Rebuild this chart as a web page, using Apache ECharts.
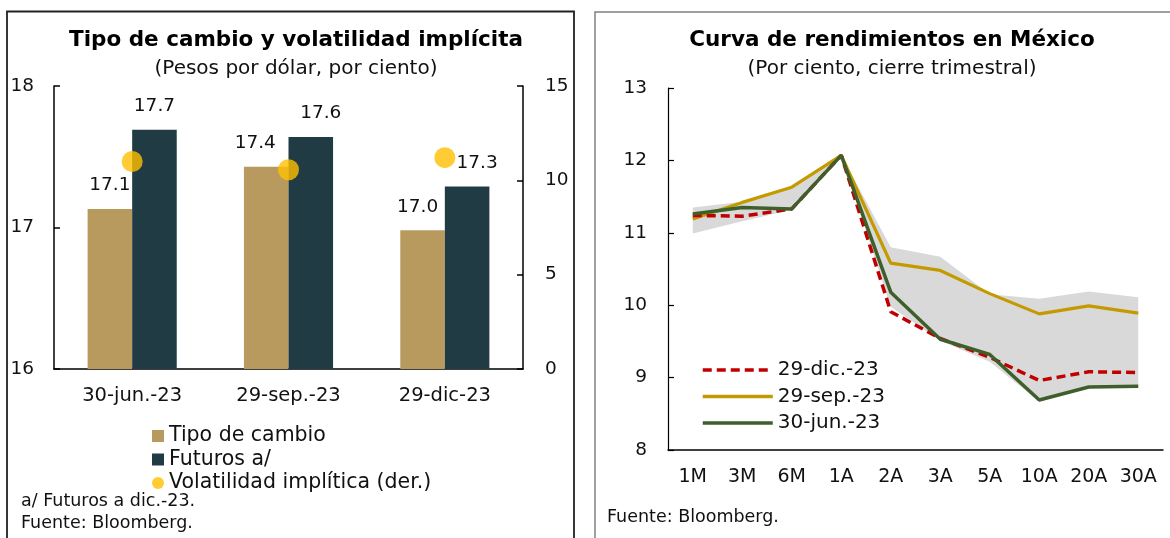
<!DOCTYPE html>
<html>
<head>
<meta charset="utf-8">
<script src="https://cdn.jsdelivr.net/npm/echarts@6/dist/echarts.min.js"></script>
<style>
  html, body { margin: 0; padding: 0; background: #fff; }
  #main { width: 1170px; height: 538px; }
</style>
</head>
<body>
<div id="main"></div>
<script>
// tipo de cambio (izq.)
const fxCategories = ['30-jun.-23', '29-sep.-23', '29-dic-23'];
const tipoCambio = [17.13, 17.43, 16.98];
const futuros = [17.69, 17.64, 17.29];
const volatilidad = [11.0, 10.56, 11.2];
const fxTicks = [16, 17, 18];
const volTicks = [0, 5, 10, 15];

// curva de rendimientos (der.)
const tenors = ['1M', '3M', '6M', '1A', '2A', '3A', '5A', '10A', '20A', '30A'];
const curvaDic = [11.24, 11.23, 11.33, 12.07, 9.91, 9.54, 9.28, 8.96, 9.08, 9.07];
const curvaSep = [11.19, 11.42, 11.63, 12.07, 10.58, 10.48, 10.16, 9.88, 9.99, 9.89];
const curvaJun = [11.26, 11.35, 11.33, 12.07, 10.18, 9.53, 9.32, 8.69, 8.87, 8.88];
const rangoMax = [11.35, 11.43, 11.63, 12.07, 10.80, 10.67, 10.15, 10.09, 10.19, 10.11];
const rangoMin = [10.99, 11.16, 11.32, 12.07, 9.98, 9.51, 9.22, 8.67, 8.86, 8.86];
const yieldTicks = [8, 9, 10, 11, 12, 13];

const FONT = '"DejaVu Sans"';
const c = {
  tipo: '#b89a5e',
  fut: '#213b44',
  vol: '#ffc000',
  dic: '#c00000',
  sep: '#c39a00',
  jun: '#3e5f2b',
  band: '#d9d9d9'
};

var chart = echarts.init(document.getElementById('main'), null, { renderer: 'canvas' });

// label nudges so they don't sit on the dots
const fxLabelShift = { tipo: [0, -11, -5], fut: [0, 10, 10] };

function barData(vals, shifts) {
  return vals.map(function (v, i) {
    return { value: v, label: { offset: [shifts[i], 0] } };
  });
}

var option = {
  backgroundColor: '#fff',
  animation: false,
  textStyle: { fontFamily: FONT },
  title: [
    {
      text: 'Tipo de cambio y volatilidad implícita',
      subtext: '(Pesos por dólar, por ciento)',
      left: 291, top: 24, textAlign: 'center', itemGap: 8,
      textStyle: { fontFamily: FONT, fontSize: 21.5, fontWeight: 'bold', color: '#000' },
      subtextStyle: { fontFamily: FONT, fontSize: 20, color: '#111' }
    },
    {
      text: 'Curva de rendimientos en México',
      subtext: '(Por ciento, cierre trimestral)',
      left: 887, top: 24, textAlign: 'center', itemGap: 8,
      textStyle: { fontFamily: FONT, fontSize: 21.5, fontWeight: 'bold', color: '#000' },
      subtextStyle: { fontFamily: FONT, fontSize: 20, color: '#111' }
    }
  ],
  legend: [
    {
      orient: 'vertical', left: 147, top: 420,
      itemWidth: 12, itemHeight: 12, itemGap: 1.5,
      textStyle: { fontFamily: FONT, fontSize: 20.5, color: '#111', lineHeight: 22 },
      data: [
        { name: 'Tipo de cambio', icon: 'rect' },
        { name: 'Futuros a/', icon: 'rect' },
        { name: 'Volatilidad implítica (der.)', icon: 'circle' }
      ]
    },
    {
      orient: 'vertical', left: 696, top: 354,
      itemWidth: 70, itemHeight: 14, itemGap: 4.5,
      itemStyle: { opacity: 0 },
      lineStyle: { width: 3.5 },
      textStyle: { fontFamily: FONT, fontSize: 20, color: '#111', lineHeight: 22 },
      data: ['29-dic.-23', '29-sep.-23', '30-jun.-23']
    }
  ],
  grid: [
    { left: 54, right: 647, top: 86, bottom: 169, outerBoundsMode: 'none' },
    { left: 668, right: 7, top: 88, bottom: 88, outerBoundsMode: 'none' }
  ],
  xAxis: [
    {
      type: 'category', gridIndex: 0, data: fxCategories,
      axisLine: { lineStyle: { color: '#000', width: 1.5 } },
      axisTick: { length: 7, lineStyle: { color: '#000', width: 1.5 } },
      axisLabel: { fontFamily: FONT, fontSize: 19.5, color: '#111', margin: 17 }
    },
    {
      type: 'category', gridIndex: 1, data: tenors,
      axisLine: { lineStyle: { color: '#000', width: 1.5 } },
      axisTick: { interval: 0, length: 6, lineStyle: { color: '#000', width: 1.2 } },
      axisLabel: { interval: 0, hideOverlap: false, fontFamily: FONT, fontSize: 19, color: '#111', margin: 18 }
    },
    {
      type: 'category', gridIndex: 1, data: tenors, position: 'bottom',
      axisLine: { show: false },
      axisTick: { interval: 0, inside: true, length: 7, lineStyle: { color: '#000', width: 1.2 } },
      axisLabel: { show: false }
    }
  ],
  yAxis: [
    {
      type: 'value', gridIndex: 0, min: fxTicks[0], max: fxTicks[fxTicks.length - 1], interval: 1,
      axisLine: { show: true, lineStyle: { color: '#000', width: 1.5 } },
      axisTick: { show: true, inside: true, length: 6, lineStyle: { color: '#000', width: 1.5 } },
      axisLabel: { fontFamily: FONT, fontSize: 18.5, color: '#111', margin: 20 },
      splitLine: { show: false }
    },
    {
      type: 'value', gridIndex: 0, position: 'right', min: volTicks[0], max: volTicks[volTicks.length - 1], interval: 5,
      axisLine: { show: true, lineStyle: { color: '#000', width: 1.5 } },
      axisTick: { show: true, inside: true, length: 6, lineStyle: { color: '#000', width: 1.5 } },
      axisLabel: { fontFamily: FONT, fontSize: 18.5, color: '#111', margin: 22 },
      splitLine: { show: false }
    },
    {
      type: 'value', gridIndex: 1, min: yieldTicks[0], max: yieldTicks[yieldTicks.length - 1], interval: 1,
      axisLine: { show: true, lineStyle: { color: '#000', width: 1.2 } },
      axisTick: { show: true, inside: true, length: 6, lineStyle: { color: '#000', width: 1.2 } },
      axisLabel: { fontFamily: FONT, fontSize: 18.5, color: '#111', margin: 21 },
      splitLine: { show: false }
    }
  ],
  series: [
    {
      name: 'Tipo de cambio', type: 'bar', xAxisIndex: 0, yAxisIndex: 0,
      data: barData(tipoCambio, fxLabelShift.tipo),
      barGap: '0%', barCategoryGap: '43%',
      itemStyle: { color: c.tipo },
      label: {
        show: true, position: 'top', distance: 14,
        fontFamily: FONT, fontSize: 18.5, color: '#111',
        formatter: function (p) { return p.value.toFixed(1); }
      }
    },
    {
      name: 'Futuros a/', type: 'bar', xAxisIndex: 0, yAxisIndex: 0,
      data: barData(futuros, fxLabelShift.fut),
      barGap: '0%', barCategoryGap: '43%',
      itemStyle: { color: c.fut },
      label: {
        show: true, position: 'top', distance: 14,
        fontFamily: FONT, fontSize: 18.5, color: '#111',
        formatter: function (p) { return p.value.toFixed(1); }
      }
    },
    {
      name: 'Volatilidad implítica (der.)', type: 'scatter', xAxisIndex: 0, yAxisIndex: 1,
      data: volatilidad, symbol: 'circle', symbolSize: 21, z: 5,
      itemStyle: { color: c.vol }
    },
    // banda gris: min + (max - min) apilado
    {
      name: 'rango-min', type: 'line', xAxisIndex: 1, yAxisIndex: 2,
      data: rangoMin, stack: 'rango', symbol: 'none', silent: true,
      lineStyle: { opacity: 0 }, z: 1
    },
    {
      name: 'rango', type: 'line', xAxisIndex: 1, yAxisIndex: 2,
      data: rangoMax.map(function (v, i) { return +(v - rangoMin[i]).toFixed(3); }),
      stack: 'rango', symbol: 'none', silent: true,
      lineStyle: { opacity: 0 }, areaStyle: { color: c.band, opacity: 1 }, z: 1
    },
    {
      name: '29-sep.-23', type: 'line', xAxisIndex: 1, yAxisIndex: 2,
      data: curvaSep, symbol: 'none', z: 3,
      lineStyle: { color: c.sep, width: 3.2 }, itemStyle: { color: c.sep }
    },
    {
      name: '29-dic.-23', type: 'line', xAxisIndex: 1, yAxisIndex: 2,
      data: curvaDic, symbol: 'none', z: 4,
      lineStyle: { color: c.dic, width: 3.5, type: [9, 5] }, itemStyle: { color: c.dic }
    },
    {
      name: '30-jun.-23', type: 'line', xAxisIndex: 1, yAxisIndex: 2,
      data: curvaJun, symbol: 'none', z: 5,
      lineStyle: { color: c.jun, width: 3.5 }, itemStyle: { color: c.jun }
    }
  ],
  graphic: [
    {
      type: 'rect', shape: { x: 7, y: 11.5, width: 567, height: 540 },
      style: { fill: null, stroke: '#222', lineWidth: 1.8 }, silent: true
    },
    {
      type: 'rect', shape: { x: 595, y: 12, width: 590, height: 540 },
      style: { fill: null, stroke: '#808080', lineWidth: 1.5 }, silent: true
    },
    { type: 'text', left: 21, top: 492, style: { text: 'a/ Futuros a dic.-23.', font: '17.5px ' + FONT, fill: '#111' } },
    { type: 'text', left: 21, top: 514, style: { text: 'Fuente: Bloomberg.', font: '17.5px ' + FONT, fill: '#111' } },
    { type: 'text', left: 607, top: 508, style: { text: 'Fuente: Bloomberg.', font: '17.5px ' + FONT, fill: '#111' } }
  ]
};

chart.setOption(option);
window.addEventListener('resize', chart.resize);
</script>
</body>
</html>
